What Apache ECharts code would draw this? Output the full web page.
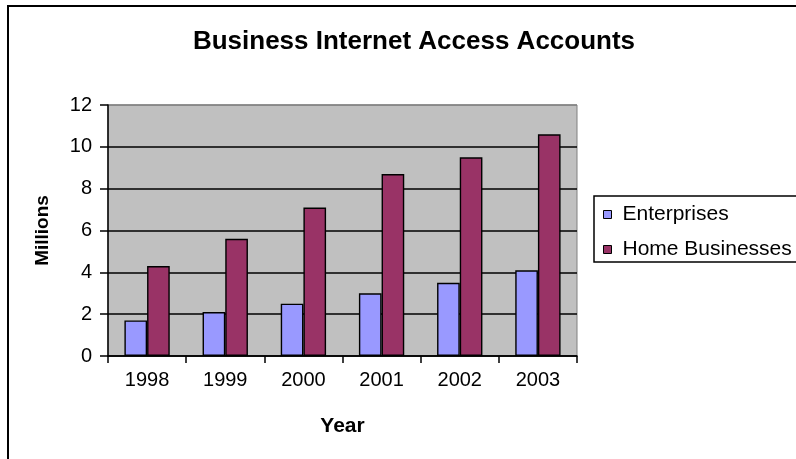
<!DOCTYPE html>
<html>
<head>
<meta charset="utf-8">
<script src="https://cdn.jsdelivr.net/npm/echarts@6/dist/echarts.min.js"></script>
<style>
  html, body { margin: 0; padding: 0; background: #fff; }
  #chart { width: 796px; height: 459px; }
</style>
</head>
<body>
<div id="chart"></div>
<script>
// Business internet access accounts, millions
const years = ['1998', '1999', '2000', '2001', '2002', '2003'];
const enterprises = [1.7, 2.1, 2.5, 3.0, 3.5, 4.1];
const homeBusinesses = [4.3, 5.6, 7.1, 8.7, 9.5, 10.6];
const seriesNames = ['Enterprises', 'Home Businesses'];
const yTicks = { min: 0, max: 12, interval: 2 };

const FONT = '"Liberation Sans", Arial, sans-serif';

const chart = echarts.init(document.getElementById('chart'), null, { renderer: 'canvas' });

chart.setOption({
  animation: false,
  backgroundColor: '#ffffff',
  title: {
    text: 'Business Internet Access Accounts',
    left: 409,
    top: 24,
    textAlign: 'center',
    textStyle: { fontFamily: FONT, fontWeight: 'bold', fontSize: 26, color: '#000' }
  },
  graphic: [
    // outer frame
    { type: 'rect', shape: { x: 8, y: 6, width: 900, height: 600 },
      style: { fill: 'none', stroke: '#000', lineWidth: 2 }, z: 100 },
    // legend box
    { type: 'rect', shape: { x: 594, y: 196, width: 260, height: 66 },
      style: { fill: '#fff', stroke: '#000', lineWidth: 1.5 }, z: 1 }
  ],
  legend: {
    orient: 'vertical',
    left: 598,
    top: 198,
    itemWidth: 8,
    itemHeight: 8,
    itemGap: 12,
    icon: 'rect',
    z: 5,
    itemStyle: { borderColor: '#000', borderWidth: 1 },
    textStyle: { fontFamily: FONT, fontSize: 21, color: '#000', lineHeight: 23, padding: [0, 0, 0, 6] },
    data: seriesNames
  },
  grid: {
    left: 108,
    right: 219,
    top: 105,
    bottom: 103,
    show: true,
    backgroundColor: '#C0C0C0',
    borderColor: '#808080',
    borderWidth: 1
  },
  xAxis: {
    type: 'category',
    data: years,
    name: 'Year',
    nameLocation: 'middle',
    nameGap: 60,
    nameTextStyle: { fontFamily: FONT, fontWeight: 'bold', fontSize: 21, color: '#000' },
    axisLine: { lineStyle: { color: '#000', width: 1.5 } },
    axisTick: { show: true, length: 7, lineStyle: { color: '#000', width: 1.5 } },
    axisLabel: { fontFamily: FONT, fontSize: 20, color: '#000', margin: 14 },
    splitLine: { show: false }
  },
  yAxis: {
    type: 'value',
    min: yTicks.min,
    max: yTicks.max,
    interval: yTicks.interval,
    name: 'Millions',
    nameLocation: 'middle',
    nameGap: 56,
    nameRotate: 90,
    nameTextStyle: { fontFamily: FONT, fontWeight: 'bold', fontSize: 19, color: '#000' },
    axisLine: { show: true, lineStyle: { color: '#000', width: 1.5 } },
    axisTick: { show: true, length: 8, lineStyle: { color: '#000', width: 1.5 } },
    axisLabel: { fontFamily: FONT, fontSize: 20, color: '#000', margin: 16 },
    splitLine: {
      show: true,
      lineStyle: { color: ['#000', '#000', '#000', '#000', '#000', '#000', '#808080'], width: 1.5 }
    }
  },
  series: [
    {
      name: seriesNames[0],
      type: 'bar',
      data: enterprises,
      barGap: '0%',
      barCategoryGap: '42%',
      itemStyle: { color: '#9999FF', borderColor: '#000', borderWidth: 1.4 }
    },
    {
      name: seriesNames[1],
      type: 'bar',
      data: homeBusinesses,
      barGap: '0%',
      barCategoryGap: '42%',
      itemStyle: { color: '#993366', borderColor: '#000', borderWidth: 1.4 }
    }
  ]
});
</script>
</body>
</html>
